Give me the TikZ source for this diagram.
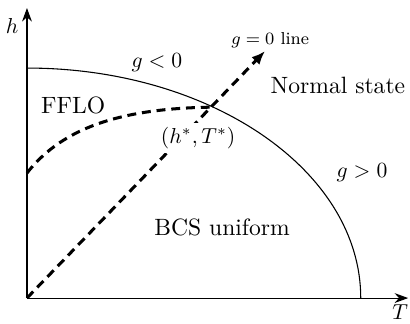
\documentclass[tikz,border=0pt]{standalone}
\usepackage{tikz}
\usetikzlibrary{arrows.meta,positioning}
\tikzset{
  axis/.style={
    line width=0.5pt,
    -{Stealth[length=2.2mm,width=1.6mm]}
  },
  phase/.style={
    line width=0.5pt
  },
  gline/.style={
    line width=1.4pt,
    dash pattern=on 1.45mm off 0.95mm
  },
  region/.style={
    inner sep=1pt
  },
  bigtext/.style={
    font=\fontsize{10.9pt}{13pt}\selectfont,
    inner sep=1pt
  },
  small/.style={
    font=\footnotesize,
    inner sep=1pt
  }
}

\begin{document}
\begin{tikzpicture}
    \useasboundingbox (-0.438,-0.406) rectangle (6.22,4.84);
    \coordinate (O) at (0,0);
    \coordinate (hTop) at (0,4.71);
    \coordinate (TEnd) at (6.19,0);
    \coordinate (hc) at (0,3.735);
    \coordinate (crit) at (3.00,3.10);
    \coordinate (fflo) at (0,2.03);
    \coordinate (gTip) at (3.865,4.01);

    % axes
    \draw[axis] (O) -- (hTop);
    \draw[axis] (O) -- (TEnd);
    \node[region] (hlab) at (-0.24,4.42) {$h$};
    \node[region] (Tlab) at (6.06,-0.23) {$T$};

    % transition line
    \draw[phase] (hc) arc[start angle=90, end angle=0, x radius=5.42, y radius=3.735];

    % g=0 line and FFLO boundary
    \draw[gline, -{Latex[length=2.2mm,width=1.8mm]}] (O) -- (gTip);
    \draw[gline] (fflo) .. controls (0.6,2.8) and (1.6,3.08) .. (crit);

    \node[small] (gzero) at (3.95,4.19) {$g=0$ line};
    \node[region] (gneg) at (2.11,3.83) {$g<0$};
    \node[region] (gpos) at (5.44,2.03) {$g>0$};
    \node[bigtext] (FFLO) at (0.75,3.13) {FFLO};
    \node[region, fill=white, inner sep=2pt] (hT) at (2.78,2.60) {$(h^{*},T^{*})$};
    \node[bigtext] (normal) at (5.05,3.46) {Normal state};
    \node[bigtext] (BCS) at (3.17,1.14) {BCS uniform};
\end{tikzpicture}
\end{document}
